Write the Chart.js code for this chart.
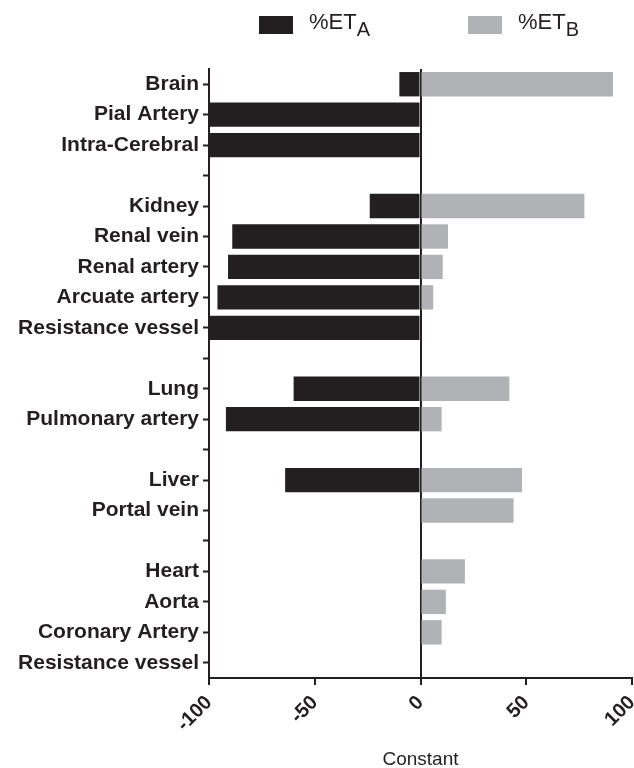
<!DOCTYPE html>
<html>
<head>
<meta charset="utf-8">
<script src="https://cdn.jsdelivr.net/npm/chart.js@4"></script>
<style>
  html, body { margin: 0; padding: 0; background: #fff; }
  #wrap { position: relative; width: 634px; height: 768px; }
  #legend { position: absolute; top: 0; left: 0; width: 634px; height: 60px; font-family: "Liberation Sans", Arial, sans-serif; color: #231f20; }
  .item { position: absolute; top: 9px; font-size: 22px; line-height: 26px; }
  .box { position: absolute; top: 16px; width: 34px; height: 18px; }
  sub { font-size: 20px; vertical-align: -7px; line-height: 0; }
</style>
</head>
<body>
<div id="wrap">
  <canvas id="c"></canvas>
  <div id="legend">
    <div class="box" style="left:259px;background:#231f20"></div>
    <div class="item" style="left:309px">%ET<sub>A</sub></div>
    <div class="box" style="left:468px;background:#b1b2b5"></div>
    <div class="item" style="left:518px">%ET<sub>B</sub></div>
  </div>
</div>
<script>
const categories = [
  "Brain", "Pial Artery", "Intra-Cerebral", "",
  "Kidney", "Renal vein", "Renal artery", "Arcuate artery", "Resistance vessel", "",
  "Lung", "Pulmonary artery", "",
  "Liver", "Portal vein", "",
  "Heart", "Aorta", "Coronary Artery", "Resistance vessel"
];
const etA = [-10, -100, -100, null, -24, -89, -91, -96, -100, null, -60, -92, null, -64, 0, null, 0, 0, 0, 0];
const etB = [91, 0, 0, null, 77.5, 13, 10.5, 6, 0, null, 42, 10, null, 48, 44, null, 21, 12, 10, 0];
const xTicks = [-100, -50, 0, 50, 100];

const INK = '#231f20';
const GRAY = '#b1b2b5';

new Chart(document.getElementById('c'), {
  type: 'bar',
  data: {
    labels: categories,
    datasets: [
      { label: '%ETA', data: etA, backgroundColor: INK, borderWidth: 0, barPercentage: 0.8, categoryPercentage: 1.0 },
      { label: '%ETB', data: etB, backgroundColor: GRAY, borderWidth: 0, barPercentage: 0.8, categoryPercentage: 1.0 }
    ]
  },
  options: {
    indexAxis: 'y',
    responsive: true,
    maintainAspectRatio: false,
    animation: false,
    layout: { padding: { top: 69, right: 2, left: 0, bottom: 0 } },
    plugins: { legend: { display: false }, tooltip: { enabled: false } },
    scales: {
      x: {
        type: 'linear',
        min: -100, max: 100,
        stacked: true,
        afterBuildTicks: s => { s.ticks = xTicks.map(v => ({ value: v })); },
        afterFit: s => { s.height = 90; s.paddingLeft = 0; s.paddingRight = 0; },
        border: { display: true, color: INK, width: 2 },
        grid: {
          drawOnChartArea: true,
          color: ctx => (ctx.tick && ctx.tick.value === 0) ? INK : 'rgba(0,0,0,0)',
          lineWidth: 2,
          tickColor: INK,
          tickLength: 7,
          tickWidth: 2
        },
        ticks: {
          minRotation: 45, maxRotation: 45,
          color: INK,
          padding: 6,
          font: { family: '"Liberation Sans", Arial, sans-serif', size: 20, weight: 'bold' }
        },
        title: {
          display: true, text: 'Constant', color: INK,
          padding: { top: 0, bottom: -3 },
          font: { family: '"Liberation Sans", Arial, sans-serif', size: 19, weight: 'normal' }
        }
      },
      y: {
        type: 'category',
        stacked: true,
        offset: true,
        afterFit: s => { s.width = 209; s.paddingTop = 0; s.paddingBottom = 0; },
        border: { display: true, color: INK, width: 2 },
        grid: {
          drawOnChartArea: false,
          offset: false,
          color: INK,
          tickColor: INK,
          tickLength: 6,
          tickWidth: 2
        },
        ticks: {
          autoSkip: false,
          color: INK,
          padding: 4,
          font: { family: '"Liberation Sans", Arial, sans-serif', size: 21, weight: 'bold' }
        }
      }
    }
  }
});
</script>
</body>
</html>
